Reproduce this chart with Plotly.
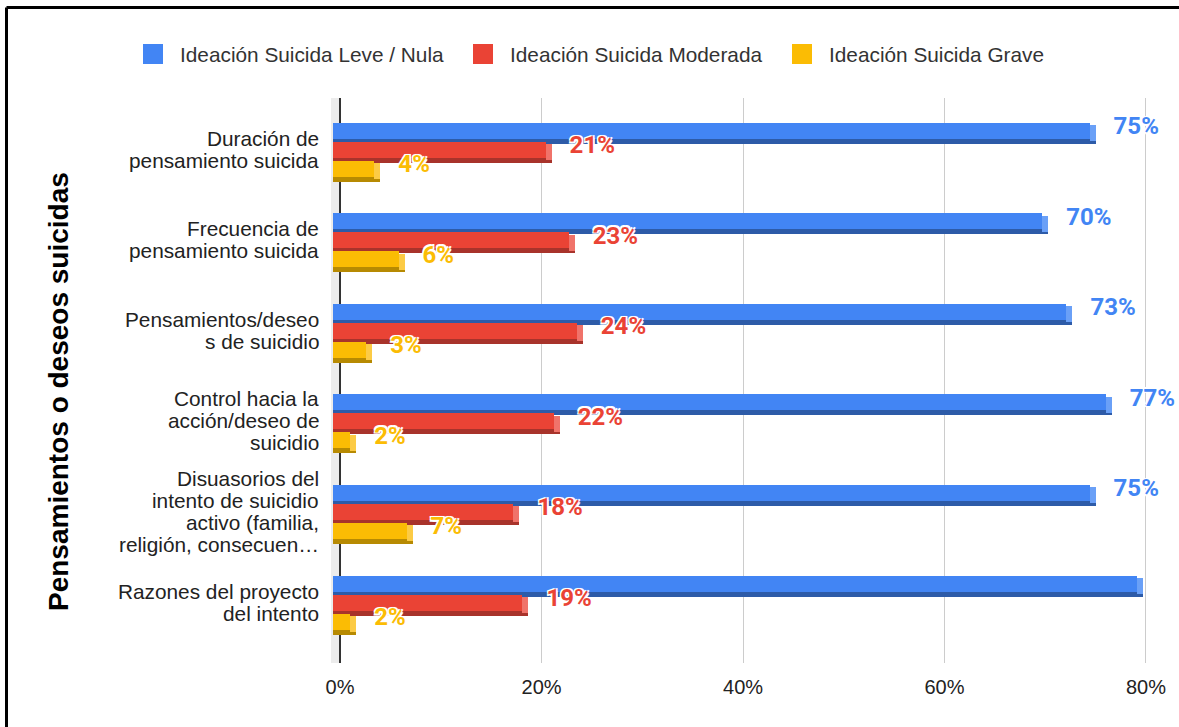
import plotly.graph_objects as go

# ---------------- data ----------------
categories = [
    "Duración de<br>pensamiento suicida",
    "Frecuencia de<br>pensamiento suicida",
    "Pensamientos/deseo<br>s de suicidio",
    "Control hacia la<br>acción/deseo de<br>suicidio",
    "Disuasorios del<br>intento de suicidio<br>activo (familia,<br>religión, consecuen…",
    "Razones del proyecto<br>del intento",
]
series_names = [
    "Ideación Suicida Leve / Nula",
    "Ideación Suicida Moderada",
    "Ideación Suicida Grave",
]
leve = [75.0, 70.3, 72.7, 76.6, 75.0, 79.7]
moderada = [21.0, 23.3, 24.1, 21.8, 17.8, 18.7]
grave = [4.0, 6.4, 3.2, 1.6, 7.2, 1.6]
x_ticks = [0, 20, 40, 60, 80]
axis_title = "Pensamientos o deseos suicidas"

series_values = [leve, moderada, grave]

# ---------------- styling ----------------
face_colors = ["#4285F4", "#EA4335", "#FBBC04"]
dark_colors = ["#2D5BA8", "#A8332B", "#B78A02"]
side_colors = ["#6AA0F7", "#F0736A", "#FCCB45"]

W_FIG, H_FIG = 1179, 727
L, R, T, B = 331, 1150, 98, 663          # plot area in pixels
PW, PH = R - L, B - T
X0, X1 = -0.9, 80.4
PITCH = 90.6                               # px per category
U = 1.0 / PITCH                            # y units per px
XU = (X1 - X0) / PW                        # x units per px
Y_TOP = -(149 - T) / PITCH
Y_BOT = Y_TOP + PH / PITCH

def pxx(px):
    return (px - L) / PW

def pxy(py):
    return (B - py) / PH

face_off = [-26.5, -7.5, 11.5]             # px offsets of bar faces from category centre
FACE_H = 16
DEPTH_X, DEPTH_Y = 6, 5
START = -7 * XU

ypos = list(range(len(categories)))
fig = go.Figure()

for s, vals in enumerate(series_values):
    f = face_off[s]
    # bottom (dark) face
    fig.add_trace(go.Bar(
        orientation="h", y=ypos, x=[v - START for v in vals], base=[START] * len(vals),
        offset=(f + DEPTH_Y) * U, width=FACE_H * U,
        marker=dict(color=dark_colors[s], line=dict(width=0)),
        showlegend=False, hoverinfo="skip"))
    # right side face
    fig.add_trace(go.Bar(
        orientation="h", y=ypos, x=[DEPTH_X * XU] * len(vals),
        base=[v - DEPTH_X * XU for v in vals],
        offset=(f + DEPTH_Y / 2) * U, width=FACE_H * U,
        marker=dict(color=side_colors[s], line=dict(width=0)),
        showlegend=False, hoverinfo="skip"))
    # front face
    fig.add_trace(go.Bar(
        orientation="h", y=ypos, x=[v - DEPTH_X * XU - START for v in vals],
        base=[START] * len(vals),
        offset=f * U, width=FACE_H * U,
        marker=dict(color=face_colors[s], line=dict(width=0)),
        name=series_names[s], showlegend=False))

# value labels
for s, vals in enumerate(series_values):
    f = face_off[s]
    fig.add_trace(go.Scatter(
        x=[v + 18 * XU for v in vals],
        y=[i + (f + FACE_H / 2 - 2.5) * U for i in ypos],
        mode="text", text=[f"{round(v)}%" for v in vals],
        textposition="middle right",
        textfont=dict(family="Roboto", size=24, color=face_colors[s], weight="bold",
                      shadow="-1.5px -1.5px 0 #fff, 1.5px -1.5px 0 #fff, -1.5px 1.5px 0 #fff, 1.5px 1.5px 0 #fff, 0 0 2px #fff"),
        cliponaxis=False, showlegend=False, hoverinfo="skip"))

shapes = []
annotations = []

# side wall
shapes.append(dict(type="rect", xref="x", yref="paper", x0=X0, x1=0, y0=0, y1=1,
                   fillcolor="#ECECEC", line=dict(width=0), layer="below"))
# outer border (top and left)
shapes.append(dict(type="line", xref="paper", yref="paper", x0=pxx(6.5), x1=pxx(1200),
                   y0=pxy(7.5), y1=pxy(7.5), line=dict(color="#000", width=3)))
shapes.append(dict(type="line", xref="paper", yref="paper", x0=pxx(6.5), x1=pxx(6.5),
                   y0=pxy(7.5), y1=pxy(760), line=dict(color="#000", width=3)))

# legend (manual)
legend_sq_x = [143, 473, 792]
for s, name in enumerate(series_names):
    x0 = legend_sq_x[s]
    shapes.append(dict(type="rect", xref="paper", yref="paper",
                       x0=pxx(x0), x1=pxx(x0 + 20), y0=pxy(64), y1=pxy(44),
                       fillcolor=face_colors[s], line=dict(width=0)))
    annotations.append(dict(xref="paper", yref="paper", x=pxx(x0 + 35), y=pxy(54),
                            xanchor="left", yanchor="middle", showarrow=False,
                            text=name, font=dict(family="Liberation Sans, Arial", size=20.8, color="#333")))

# category labels (one annotation per line for tight line spacing)
LINE_H = 22
for i, cat in enumerate(categories):
    lines = cat.split("<br>")
    n = len(lines)
    for k, line in enumerate(lines):
        annotations.append(dict(xref="paper", yref="y", x=pxx(321),
                                y=i + (k - (n - 1) / 2) * LINE_H * U,
                                xanchor="right", yanchor="middle", showarrow=False,
                                text=line, font=dict(family="Liberation Sans, Arial", size=20.8, color="#222")))

# axis title
annotations.append(dict(xref="paper", yref="paper", x=pxx(58), y=pxy(392),
                        xanchor="center", yanchor="middle", showarrow=False, textangle=-90,
                        text=f"<b>{axis_title}</b>",
                        font=dict(family="Liberation Sans, Arial", size=28, color="#000")))

fig.update_layout(
    width=W_FIG, height=H_FIG,
    margin=dict(l=L, r=W_FIG - R, t=T, b=H_FIG - B, pad=0),
    paper_bgcolor="#fff", plot_bgcolor="#fff",
    barmode="overlay", bargap=0,
    shapes=shapes, annotations=annotations,
    showlegend=False,
    xaxis=dict(range=[X0, X1], tickvals=x_ticks, ticktext=[f"{t}%" for t in x_ticks],
               showgrid=True, gridcolor="#CCCCCC", gridwidth=1,
               zeroline=True, zerolinecolor="#333", zerolinewidth=1.5,
               showline=False, ticks="", ticklabelstandoff=10,
               tickfont=dict(family="Liberation Sans, Arial", size=20, color="#222"),
               fixedrange=True),
    yaxis=dict(range=[Y_BOT, Y_TOP], showticklabels=False, showgrid=False,
               zeroline=False, showline=False, ticks="", fixedrange=True),
)

fig.write_html("out.html")
